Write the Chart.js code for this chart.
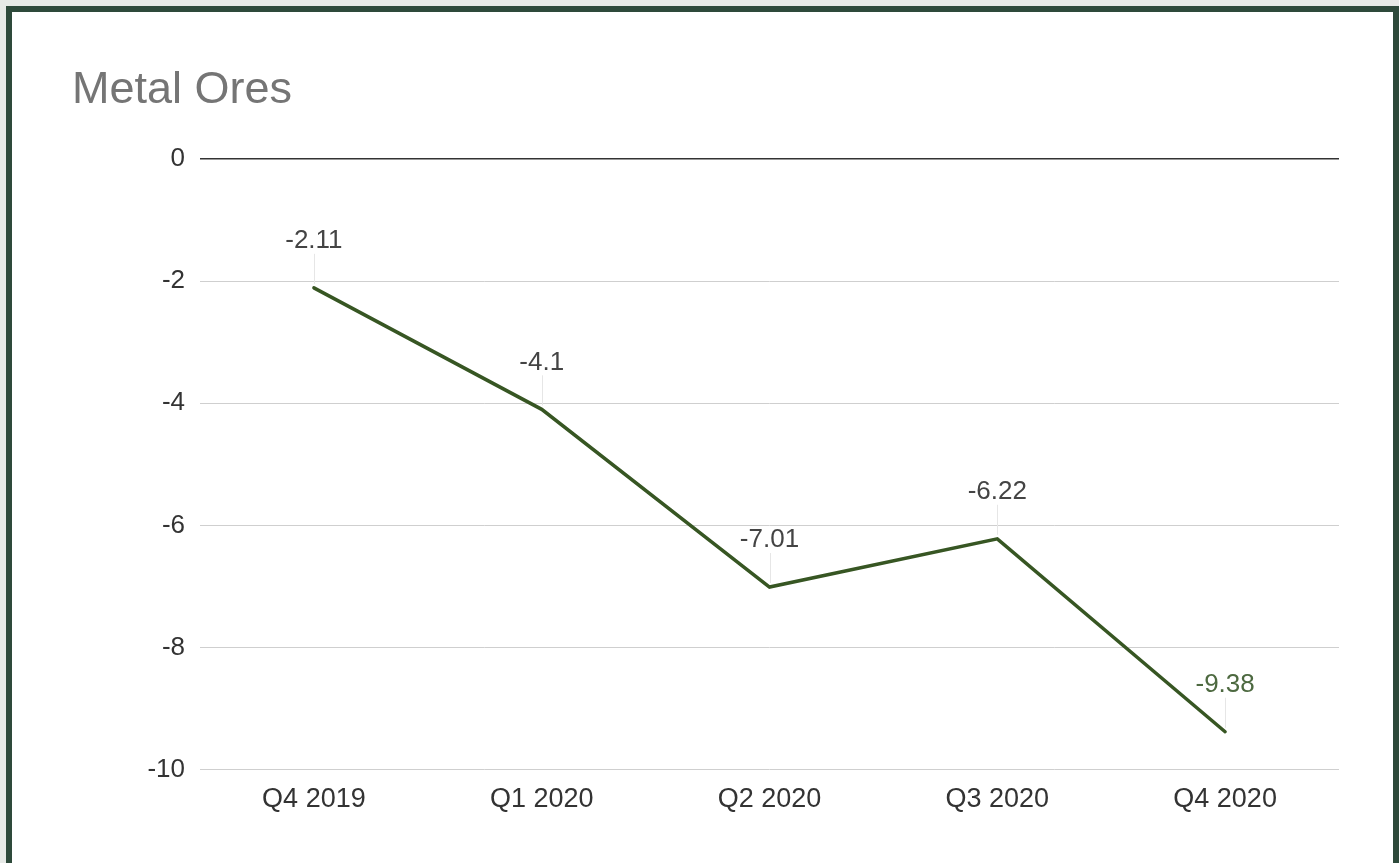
<!DOCTYPE html>
<html>
<head>
<meta charset="utf-8">
<script src="https://cdn.jsdelivr.net/npm/chart.js@4"></script>
<style>
  body { margin: 0; background: #e7eae7; overflow: hidden; }
  #frame {
    position: absolute; left: 6px; top: 6px;
    width: 1393px; height: 900px; box-sizing: border-box;
    border: 6px solid #2e4a3b; background: #fff;
  }
  canvas { display: block; }
</style>
</head>
<body>
<div id="frame"><canvas id="grafico" width="1381" height="851"></canvas></div>
<script>
// dados do gráfico
const categorias = ['Q4 2019', 'Q1 2020', 'Q2 2020', 'Q3 2020', 'Q4 2020'];
const valores = [-2.11, -4.1, -7.01, -6.22, -9.38];
const ticksY = [0, -2, -4, -6, -8, -10];

const FONTE = "'Liberation Sans', Arial, sans-serif";

// rótulos de dados acima dos pontos, com linha guia fraca
const rotulos = {
  id: 'rotulos',
  afterDatasetsDraw(chart) {
    const ctx = chart.ctx;
    const meta = chart.getDatasetMeta(0);
    ctx.save();
    ctx.font = '26px ' + FONTE;
    ctx.textAlign = 'center';
    ctx.textBaseline = 'middle';
    meta.data.forEach((pt, i) => {
      const ly = pt.y - 47;
      ctx.strokeStyle = '#e6e6e6';
      ctx.lineWidth = 1;
      ctx.beginPath();
      ctx.moveTo(Math.round(pt.x) + 0.5, ly + 13);
      ctx.lineTo(Math.round(pt.x) + 0.5, pt.y - 4);
      ctx.stroke();
      ctx.fillStyle = i === meta.data.length - 1 ? '#4d6940' : '#444';
      ctx.fillText(String(valores[i]), pt.x, ly);
    });
    ctx.restore();
  }
};

new Chart(document.getElementById('grafico').getContext('2d'), {
  type: 'line',
  data: {
    labels: categorias,
    datasets: [{
      label: 'Metal Ores',
      data: valores,
      borderColor: '#375623',
      borderWidth: 3.5,
      pointRadius: 0,
      tension: 0,
      borderCapStyle: 'round',
      borderJoinStyle: 'miter'
    }]
  },
  options: {
    responsive: false,
    animation: false,
    devicePixelRatio: 1,
    layout: { padding: { left: 60, right: 54, top: 0, bottom: 33 } },
    plugins: {
      legend: { display: false },
      tooltip: { enabled: false },
      title: {
        display: true,
        text: 'Metal Ores',
        align: 'start',
        color: '#757575',
        font: { family: FONTE, size: 45, weight: 'normal' },
        padding: { top: 52, bottom: 41 }
      }
    },
    scales: {
      x: {
        offset: true,
        grid: { display: false, drawTicks: false },
        border: { display: false },
        ticks: { color: '#333', font: { family: FONTE, size: 27 }, padding: 14 }
      },
      y: {
        min: -10,
        max: 0,
        afterBuildTicks(scale) {
          scale.ticks = ticksY.map(v => ({ value: v }));
        },
        afterFit(scale) { scale.width = 128; },
        grid: {
          drawTicks: false,
          color: c => (c.tick && c.tick.value === 0) ? '#333' : '#cfcfcf',
          lineWidth: c => (c.tick && c.tick.value === 0) ? 1.5 : 1
        },
        border: { display: false },
        ticks: { color: '#333', font: { family: FONTE, size: 26 }, padding: 15 }
      }
    }
  },
  plugins: [rotulos]
});
</script>
</body>
</html>
